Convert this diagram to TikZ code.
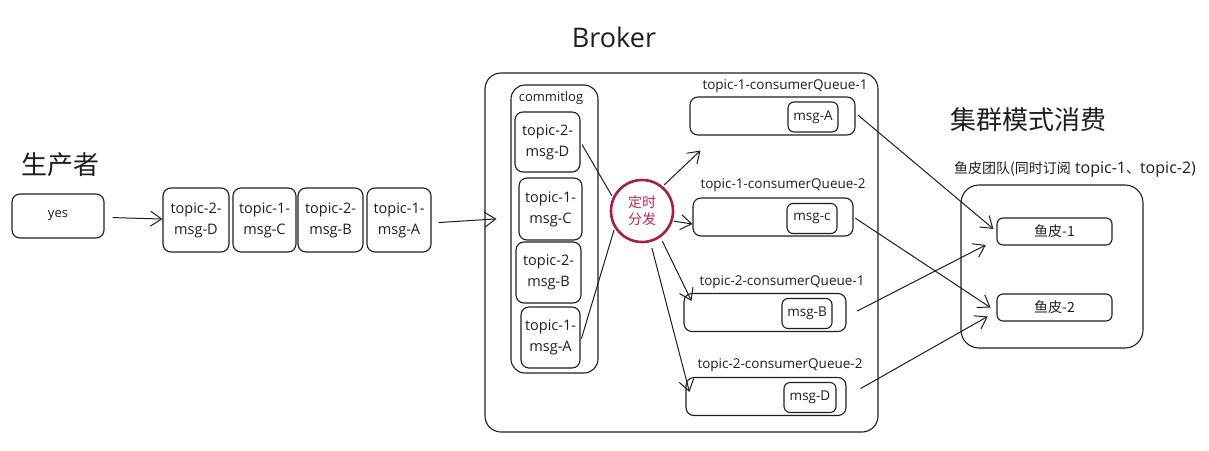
\documentclass[tikz,border=0pt]{standalone}
\usepackage{fontspec}
\setmainfont{Open Sans}
\newfontfamily\cjk{Noto Sans CJK SC}
\usetikzlibrary{arrows.meta}
\definecolor{ink}{HTML}{1E1E1E}
\definecolor{crim}{HTML}{A61E4D}
\definecolor{crimtext}{HTML}{C2255C}
\tikzset{
  box/.style={draw=ink, line width=1.1pt, rounded corners=8pt, inner sep=0pt, text=ink},
  msgbox/.style={box, align=center, font=\fontsize{14.5}{21}\selectfont},
  qbox/.style={box, minimum height=38pt},
  qmsg/.style={box, minimum width=50pt, minimum height=30pt, rounded corners=6pt, font=\fontsize{13.5}{15}\selectfont},
  qlabel/.style={text=ink, inner sep=0pt, font=\fontsize{13.5}{15}\selectfont},
  cbox/.style={box, minimum width=115pt, minimum height=27pt, rounded corners=6pt, font=\cjk\fontsize{14}{16}\selectfont},
  title/.style={text=ink, inner sep=0pt},
  arr/.style={draw=ink, line width=1pt, -{Straight Barb[length=11pt,width=15pt,line width=1pt]}},
  plain/.style={draw=ink, line width=1pt},
}
\begin{document}
\begin{tikzpicture}[x=1pt,y=-1pt]
\useasboundingbox (0,0) rectangle (1209,450);
% producer
\node[title, font=\cjk\fontsize{26}{28}\selectfont] (ptitle) at (60,165) {生产者};
\node[box, minimum width=92pt, minimum height=44pt, font=\fontsize{13}{14}\selectfont] (yes) at (58,216) {yes};
\node[msgbox, minimum width=66pt, minimum height=64pt] (pD) at (196,220) {topic-2-\\msg-D};
\node[msgbox, minimum width=63pt, minimum height=64pt] (pC) at (264.5,220) {topic-1-\\msg-C};
\node[msgbox, minimum width=65pt, minimum height=64pt] (pB) at (330.5,220) {topic-2-\\msg-B};
\node[msgbox, minimum width=64pt, minimum height=64pt] (pA) at (399,220) {topic-1-\\msg-A};
% broker
\node[title, font=\fontsize{27}{29}\selectfont] (btitle) at (614,37) {Broker};
\node[box, minimum width=393pt, minimum height=359pt, rounded corners=16pt] (broker) at (681.5,252.5) {};
\node[box, minimum width=87pt, minimum height=288pt, rounded corners=14pt] (cl) at (554.5,229) {};
\node[title, font=\fontsize{13}{14}\selectfont] (cltitle) at (551,98) {commitlog};
\node[msgbox, minimum width=65pt, minimum height=60pt] (cD) at (547.5,142) {topic-2-\\msg-D};
\node[msgbox, minimum width=63pt, minimum height=62pt] (cC) at (550.5,209) {topic-1-\\msg-C};
\node[msgbox, minimum width=65pt, minimum height=61pt] (cB) at (548.5,272.5) {topic-2-\\msg-B};
\node[msgbox, minimum width=59pt, minimum height=61pt] (cA) at (550.5,337.5) {topic-1-\\msg-A};
\node[circle, draw=crim, line width=2.6pt, minimum size=62pt, inner sep=0pt, align=center,
      text=crimtext, font=\cjk\fontsize{14}{17}\selectfont] (disp) at (642,211) {定时\\分发};
% queues
\node[qlabel] (l1) at (785,86) {topic-1-consumerQueue-1};
\node[qbox, minimum width=165pt] (q1) at (772.5,116) {};
\node[qmsg] (m1) at (813,117) {msg-A};
\node[qlabel] (l2) at (783,185) {topic-1-consumerQueue-2};
\node[qbox, minimum width=160pt] (q2) at (773,217) {};
\node[qmsg] (m2) at (812,218.5) {msg-c};
\node[qlabel] (l3) at (782,282) {topic-2-consumerQueue-1};
\node[qbox, minimum width=162pt] (q3) at (765,312.5) {};
\node[qmsg] (m3) at (807,313.5) {msg-B};
\node[qlabel] (l4) at (780,365) {topic-2-consumerQueue-2};
\node[qbox, minimum width=160pt] (q4) at (766,396.5) {};
\node[qmsg, minimum width=52pt] (m4) at (810,397.5) {msg-D};
% consumers
\node[title, font=\cjk\fontsize{26}{28}\selectfont] (gtitle) at (1028,120) {集群模式消费};
\node[title, font=\fontsize{16}{18}\selectfont] (gsub) at (1075,170) {{\cjk\fontsize{14}{18}\selectfont 鱼皮团队(同时订阅} topic-1{\cjk\fontsize{14}{18}\selectfont 、}topic-2)};
\node[box, minimum width=182pt, minimum height=163pt, rounded corners=18pt] (grp) at (1052,266.5) {};
\node[cbox] (c1) at (1054.5,231.5) {鱼皮-1};
\node[cbox] (c2) at (1054.5,307.5) {鱼皮-2};
% connectors
\draw[arr, shorten <=8pt] (yes) -- (pD);
\draw[arr, shorten <=7pt, shorten >=14pt] ([yshift=-3pt]pA.east) -- ([yshift=11pt]cl.west);
\draw[plain, shorten <=3pt, shorten >=2pt] (cD.east) -- (disp.155);
\draw[plain, shorten <=3pt, shorten >=2pt] ([yshift=-4pt]cA.east) -- (disp.212);
\draw[arr, shorten <=2pt] (disp.50) -- ([xshift=11pt,yshift=-15pt]q1.south west);
\draw[arr, shorten <=1pt] (disp.-18) -- ([yshift=-7pt]q2.west);
\draw[arr, shorten <=4pt] (disp.-55) -- ([xshift=8pt,yshift=-8pt]q3.north west);
\draw[arr, shorten <=6pt] (disp.-75) -- ([xshift=4pt,yshift=-15pt]q4.north west);
\draw[arr, shorten <=3pt, shorten >=4pt] ([yshift=3pt]q1.east) -- (c1.west);
\draw[arr, shorten <=2pt, shorten >=7pt] (q2.east) -- ([yshift=-4pt]c2.west);
\draw[arr, shorten <=12pt, shorten >=12pt] ([yshift=-4pt]q3.east) -- ([yshift=-8pt]c1.west);
\draw[arr, shorten <=16pt, shorten >=10pt] (q4.east) -- ([yshift=-4pt]c2.west);
\end{tikzpicture}
\end{document}
